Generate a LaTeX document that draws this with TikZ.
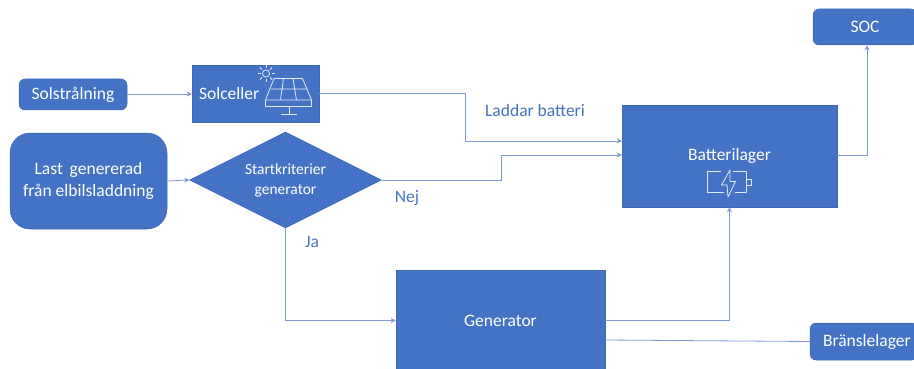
\documentclass[tikz,border=0pt]{standalone}
\usepackage{fontspec}
\usetikzlibrary{arrows.meta,positioning,shapes.geometric}
\setmainfont{Carlito}
\definecolor{Accent}{HTML}{4472C4}
\definecolor{Edge}{HTML}{3F68B2}
\definecolor{Wire}{HTML}{7C9BD6}
\tikzset{flow/.style={-{Stealth[length=5pt,width=5pt]},draw=Wire,line width=.8pt},
plain/.style={draw=Wire,line width=.8pt},
box/.style={fill=Accent,draw=Edge,line width=.5pt,align=center,text=white,inner sep=0pt,font=\fontsize{17.5}{22}\selectfont},
pill/.style={box,rounded corners=6pt},
note/.style={text=Accent,inner sep=0pt,font=\fontsize{17.5}{22}\selectfont},
icon/.style={draw=white!85!Accent,line width=.8pt,line join=round}}
\begin{document}
\begin{tikzpicture}[x=1pt,y=-1pt]
\useasboundingbox (0,0) rectangle (914,369);
\node[pill,minimum width=108pt,minimum height=31pt] (sol) at (73,94.5) {Solstrålning};
\node[box,minimum width=127pt,minimum height=57pt,text width=113pt,align=left] (cell) at (255.5,93.5) {Solceller};
\node[pill,rounded corners=20pt,minimum width=157pt,minimum height=96pt] (load) at (88.5,181) {Last\, genererad\\från elbilsladdning};
\node[diamond,box,minimum width=192pt,minimum height=96pt,aspect=2,font=\fontsize{15.5}{20}\selectfont] (start) at (285.5,180) {Startkriterier\\generator};
\node[box,minimum width=215pt,minimum height=102pt] (batt) at (729.5,156) {Batterilager};
\node[pill,minimum width=104pt,minimum height=36pt] (soc) at (865,27) {SOC};
\node[box,minimum width=209pt,minimum height=100pt] (gen) at (500.5,320.5) {Generator};
\node[pill,minimum width=108pt,minimum height=37pt,text width=104pt,align=left] (fuel) at (864,341.5) {\hspace{11pt}Bränslelager};
\node[note] (charge) at (535,110) {Laddar batteri};
\node[note] (no) at (407,198) {Nej};
\node[note] (yes) at (312,242) {Ja};
% connectors
\draw[flow] (sol.east |- 0,94) -- (cell.west |- 0,94);
\draw[flow] (cell.east) -- (465,93.5) |- (batt.west |- 0,141);
\draw[flow] (start.east) -- (501,180) |- (batt.west |- 0,155);
\draw[flow] (load.east) -- (start.west);
\draw[flow] (start.south) |- (gen.west);
\draw[flow] (gen.east) -| (batt.south);
\draw[flow] (batt.east |- 0,155) -- (867,155) -- (soc.south -| 867,0);
\draw[plain] (fuel.west) -- (gen.east |- 0,340);
% solar panel
\draw[icon] (274,78.5) -- (302.5,78.5) -- (311.5,100) -- (265.5,100) -- cycle;
\draw[icon] (265.5,100) -- (265.5,106) -- (311.5,106) -- (311.5,100);
\draw[icon] (270.5,89) -- (307,89) (283.5,78.5) -- (280.5,100) (293,78.5) -- (296.5,100);
\draw[icon] (289,106) -- (289,114.5) (281,114.5) -- (297,114.5);
\draw[icon] (266,73.5) circle (3.6pt);
\foreach \a in {0,45,...,315}
  \draw[icon] (266,73.5) ++(\a:5.5) -- ++(\a:3);
% battery
\draw[icon] (721,171.5) -- (707.5,171.5) -- (707.5,192.5) -- (724,192.5);
\draw[icon] (732.5,171.5) -- (746.5,171.5) -- (746.5,192.5) -- (735,192.5);
\draw[icon] (746.5,179) -- (751.5,179) -- (751.5,185.5) -- (746.5,185.5);
\draw[icon] (730,170) -- (721.5,185) -- (727,185) -- (728,197) -- (735.5,181.5) -- (730,181.5) -- cycle;
\end{tikzpicture}
\end{document}
